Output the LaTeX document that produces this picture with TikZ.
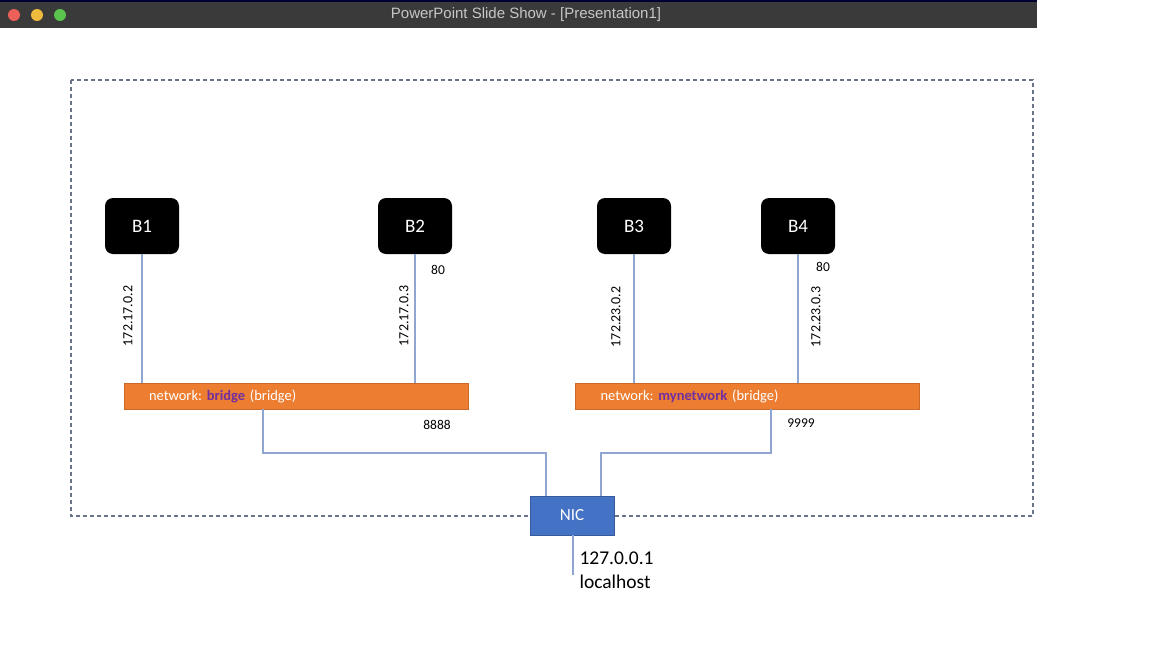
\documentclass[tikz,border=0pt]{standalone}
\usepackage{fontspec}
\setmainfont{Carlito}
\newfontfamily\titlefont{Liberation Sans}
\definecolor{barorange}{RGB}{237,125,49}
\definecolor{nicblue}{RGB}{68,114,196}
\definecolor{netpurple}{RGB}{112,48,160}
\definecolor{linkblue}{RGB}{143,166,208}
\definecolor{frameblue}{RGB}{105,116,136}
\definecolor{titlegray}{RGB}{58,58,58}
\definecolor{lightred}{RGB}{236,96,90}
\definecolor{lightyellow}{RGB}{240,186,60}
\definecolor{lightgreen}{RGB}{90,196,78}
\frenchspacing
\begin{document}
\begin{tikzpicture}[x=1pt,y=1pt,yscale=-1,xscale=1,
  host/.style={fill=black,rounded corners=8pt,minimum width=74pt,minimum height=56pt,text=white,font=\fontsize{19}{22}\selectfont},
  netbar/.style={fill=barorange,draw=barorange!85!black,line width=0.6pt,text width=294pt,inner xsep=25pt,inner ysep=0pt,minimum height=26pt,align=left,text=white,font=\fontsize{14.5}{17}\selectfont},
  link/.style={draw=linkblue,line width=1.2pt},
  ipaddr/.style={rotate=90,font=\fontsize{14}{16}\selectfont},
  port/.style={font=\fontsize{13.5}{16}\selectfont}]
\useasboundingbox (0,0) rectangle (1152,648);

%Shape: Rectangle (window title bar)
\fill[titlegray] (0,0) rectangle (1037,28);
\fill[black!80!blue] (0,0) rectangle (1037,2);
\fill[lightred] (14,15) circle (6);
\fill[lightyellow] (37,15) circle (6);
\fill[lightgreen] (60,15) circle (6);
% Text Node
\node[text=white!78!black,font=\titlefont\fontsize{15}{18}\selectfont] (title) at (526,15) {PowerPoint Slide Show - [Presentation1]};

%Shape: Rectangle (dashed host frame)
\draw[frameblue,line width=1.2pt,dash pattern=on 4pt off 3pt] (71,80) rectangle (1033,516);

%Shape: Containers
\node[host] (b1) at (142,226) {B1};
\node[host] (b2) at (415,226) {B2};
\node[host] (b3) at (634,226) {B3};
\node[host] (b4) at (798,226) {B4};

%Shape: Networks
\node[netbar] (bridgenet) at (296,396) {network: \textcolor{netpurple}{\textbf{bridge}} (bridge)};
\node[netbar] (mynet) at (747.5,396) {network: \textcolor{netpurple}{\textbf{mynetwork}} (bridge)};

%Shape: NIC
\node[fill=nicblue,draw=nicblue!80!black,minimum width=84pt,minimum height=39pt,text=white,font=\fontsize{17}{20}\selectfont] (nic) at (572,515.5) {NIC};

%Straight Lines
\draw[link] (b1.south) -- (b1.south |- bridgenet.north);
\draw[link] (b2.south) -- (b2.south |- bridgenet.north);
\draw[link] (b3.south) -- (b3.south |- mynet.north);
\draw[link] (b4.south) -- (b4.south |- mynet.north);

\coordinate (bendl) at (263,453);
\coordinate (bendr) at (771,453);
\draw[link] (bendl |- bridgenet.south) -- (bendl) -| ([xshift=-26pt]nic.north);
\draw[link] (bendr |- mynet.south) -- (bendr) -| ([xshift=29pt]nic.north);

\coordinate (lo) at (573,575);
\draw[link] (nic.south -| lo) -- (lo);

% Text Node
\node[ipaddr] (ip1) at (128,316) {172.17.0.2};
% Text Node
\node[ipaddr] (ip2) at (404,316) {172.17.0.3};
% Text Node
\node[ipaddr] (ip3) at (616,317) {172.23.0.2};
% Text Node
\node[ipaddr] (ip4) at (816,317) {172.23.0.3};
% Text Node
\node[port] (port2) at (438,270) {80};
% Text Node
\node[port] (port4) at (823,267) {80};
% Text Node
\node[port] (port8888) at (437,425) {8888};
% Text Node
\node[port] (port9999) at (801,423) {9999};
% Text Node
\node[anchor=west,align=left,font=\fontsize{19.5}{24}\selectfont] (lohost) at (576,570) {127.0.0.1\\localhost};

\end{tikzpicture}
\end{document}
